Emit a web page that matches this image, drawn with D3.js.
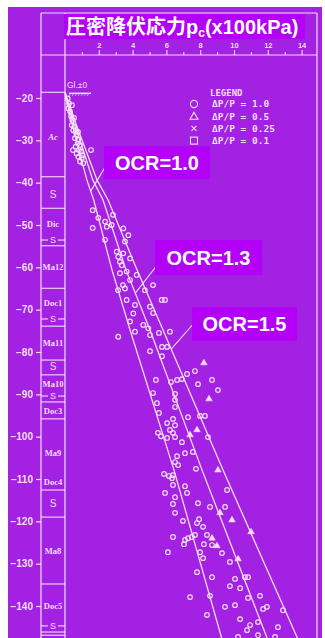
<!DOCTYPE html>
<html>
<head>
<meta charset="utf-8">
<script src="https://cdn.jsdelivr.net/npm/d3@7"></script>
<style>
  html, body { margin: 0; padding: 0; background: #ffffff; }
  svg { display: block; }
</style>
</head>
<body>
<svg id="chart" width="325" height="638"></svg>
<script>
// ---- data ----------------------------------------------------------------
const depthTicks = [-20, -30, -40, -50, -60, -70, -80, -90, -100, -110, -120, -130, -140];
const pMajorTicks = [2, 4, 6, 8, 10, 12, 14];
const pMinorTicks = [1, 3, 5, 7, 9, 11, 13];

// preconsolidation lines p = OCR x sigma'v0, sampled by depth (m)
const curveDepth = [-18.65, -25, -32, -39.4, -44.1, -60.6, -74.8, -107.9, -148];
const ocr10 = [0, 0.35, 0.80, 1.30, 1.70, 2.78, 3.85, 6.45, 9.30];
const ocr13 = [0, 0.45, 1.05, 1.65, 2.25, 3.61, 5.03, 8.11, 12.00];
const ocr15 = [0, 0.55, 1.20, 1.90, 2.55, 4.26, 5.80, 9.35, 13.80];
const ocrNames = ["OCR=1.0", "OCR=1.3", "OCR=1.5"];
const leaderDepth = [-42.0, -66.1, -79.3];

// measured pc (x100 kPa) against elevation (m), ΔP/P = 1.0
const circlePts = [
  [0.16,-20.1],[0.24,-21.3],[0.20,-22.4],[0.30,-23.2],[0.36,-24.3],[0.43,-25.2],[0.40,-26.4],[0.55,-26.8],
  [0.49,-27.6],[0.63,-28.0],[0.69,-28.7],[0.59,-29.5],[0.79,-29.8],[0.75,-30.7],[0.89,-31.1],[0.63,-31.5],
  [0.83,-32.3],[0.95,-32.7],[0.69,-33.1],[0.79,-33.9],[0.99,-34.2],[0.89,-35.0],[1.54,-32.3],[1.08,-35.4],
  [0.41,-21.7],[0.53,-24.7],[0.77,-28.0],[0.47,-32.3],[1.01,-33.5],
  [1.64,-46.5],[1.97,-48.3],[1.64,-50.7],[2.37,-49.2],[2.47,-50.4],[2.76,-50.0],[2.84,-47.6],[3.45,-50.8],
  [3.75,-52.4],[3.55,-53.9],[2.37,-53.5],[3.06,-56.3],[3.15,-57.5],[3.45,-56.7],[3.25,-58.7],[3.36,-59.5],
  [3.85,-57.9],[3.25,-61.4],[3.65,-61.0],[3.85,-63.0],[4.24,-61.8],[3.55,-65.0],[4.73,-65.4],[5.72,-67.7],
  [5.92,-67.7],[3.65,-67.7],[4.14,-68.9],[5.03,-69.3],[4.04,-70.9],[3.85,-72.8],[4.63,-73.6],[4.93,-74.4],
  [6.21,-75.2],[3.15,-76.4],[4.14,-75.2],[5.03,-76.0],[5.21,-64.2],[5.56,-75.5],[5.21,-70.8],[3.14,-65.4],
  [3.43,-64.2],
  [5.03,-79.8],[5.74,-81.0],[5.74,-78.8],[6.04,-78.8],[7.69,-84.5],[7.22,-85.2],[6.92,-86.4],[6.63,-86.6],
  [6.27,-87.1],[5.38,-86.6],[8.70,-86.6],[7.87,-87.6],[9.05,-89.0],[5.21,-89.7],[6.51,-89.9],[6.51,-91.3],
  [5.44,-92.1],[6.51,-93.0],[5.56,-94.4],[7.28,-95.4],[7.99,-95.1],[8.28,-95.1],[6.39,-95.8],[6.04,-96.8],
  [6.51,-97.3],[6.21,-98.4],[5.50,-99.1],[5.68,-99.9],[6.39,-99.1],[6.04,-100.3],[6.51,-100.1],[6.92,-101.3],
  [8.46,-100.1],[7.10,-103.9],[6.63,-104.6],[7.57,-103.6],[6.51,-106.0],[6.69,-106.7],[7.75,-107.6],[5.86,-108.8],
  [6.15,-109.3],[6.39,-109.1],
  [6.33,-109.8],[6.39,-111.4],[7.10,-111.7],[7.22,-113.3],[5.92,-113.3],[6.51,-114.3],[9.59,-112.6],[6.39,-115.9],
  [7.87,-115.7],[8.58,-116.6],[6.51,-118.0],[9.47,-116.6],[6.98,-119.9],[7.93,-119.5],[7.81,-120.4],[8.17,-121.3],
  [6.39,-123.7],[7.69,-123.2],[7.51,-123.7],[7.28,-124.0],[7.10,-124.4],[7.04,-125.4],[8.40,-123.2],[8.22,-125.4],
  [8.70,-125.6],[6.09,-127.3],[7.99,-127.3],[9.29,-127.5],[8.17,-128.7],[9.76,-129.6],[7.81,-132.0],[8.70,-133.2],
  [10.06,-133.6],[10.65,-133.2],[10.83,-133.2],[9.76,-135.3],[10.36,-135.8],[7.40,-137.9],[8.58,-137.6],[11.54,-137.6],
  [10.83,-138.1],[9.47,-140.2],[10.06,-139.8],[11.95,-140.2],[11.72,-140.7],[12.90,-141.0],[8.40,-142.1],[10.36,-143.1],
  [11.42,-143.8],[10.95,-144.5],[10.77,-145.7],[12.60,-145.0],[11.42,-146.9],[10.24,-147.3],[12.43,-147.3]
];
// ΔP/P = 0.5
const trianglePts = [
  [8.22,-82.6],[8.52,-91.1],[7.81,-98.4],[7.40,-99.6],[9.05,-107.9],
  [9.17,-118.0],[9.88,-119.7],[11.01,-122.5],[8.70,-124.0],[8.99,-125.8],[10.24,-128.9]
];

const legendTitle = "LEGEND";
const legendLabels = ["ΔP/P = 1.0", "ΔP/P = 0.5", "ΔP/P = 0.25", "ΔP/P = 0.1"];
const legendSymbols = ["circle", "triangle", "cross", "square"];

// boring log
const layerBounds = [-18.65, -38.6, -46.05, -54.9, -64.95, -73.9, -81.9, -85.4, -91.8, -95.8,
                     -112.6, -119.0, -134.8, -146.15, -146.9];
const seamDepths = [-53.55, -72.2, -90.4, -144.7];
const layerNames = ["Ac", "S", "Dic", "Ma12", "Doc1", "Ma11", "S", "Ma10", "Doc3", "Ma9", "Doc4", "S", "Ma8", "Doc5"];
const layerLabelDepth = [-29.2, -42.7, -49.8, -59.9, -68.4, -77.9, -83.5, -87.6, -93.9, -103.9, -110.7, -115.7, -127.0, -140.0];

const titleMain = "圧密降伏応力p";
const titleSub = "c";
const titleUnit = "(x100kPa)";
const glText = "Gl.±0";

// ---- drawing -------------------------------------------------------------
const W = 325, H = 638;
const BG = "#a321e2", BOX = "#b300f7", INK = "#f6def6";
const svg = d3.select("#chart");

const frame = { left: 41, col: 65, right: 317, top: 13, head: 55 };
const x = d3.scaleLinear().domain([0, 14]).range([frame.col, 301.6]);
const y = d3.scaleLinear().domain([-20, -140]).range([98, 606]);

svg.append("rect").attr("x", 8).attr("y", 7).attr("width", 314).attr("height", H - 7).attr("fill", BG);

const g = svg.append("g");
const line = (x1, y1, x2, y2, w = 1.2) =>
  g.append("line").attr("x1", x1).attr("y1", y1).attr("x2", x2).attr("y2", y2)
    .attr("stroke", INK).attr("stroke-width", w);

// frame
line(frame.left, frame.top, frame.right, frame.top);
line(frame.left, frame.top, frame.left, H);
line(frame.right, frame.top, frame.right, H);
line(frame.col, frame.top, frame.col, H);
line(frame.left, frame.head, frame.right, frame.head);

// p axis (top)
const xMinor = d3.axisTop(x).tickValues(pMinorTicks).tickSize(3).tickFormat("");
const xMajor = d3.axisTop(x).tickValues(pMajorTicks).tickSize(5).tickPadding(2);
[xMinor, xMajor].forEach(ax => {
  const a = g.append("g").attr("transform", `translate(0,${frame.head})`).call(ax);
  a.select(".domain").remove();
  a.selectAll("line").attr("stroke", INK).attr("stroke-width", 1.1);
  a.selectAll("text").attr("fill", INK).attr("font-family", "Liberation Sans, Arial, sans-serif")
    .attr("font-size", 7.5).attr("font-weight", "bold");
});

// depth axis (left)
const yAx = g.append("g").attr("transform", `translate(${frame.left},0)`)
  .call(d3.axisLeft(y).tickValues(depthTicks).tickSize(5).tickPadding(3));
yAx.select(".domain").remove();
yAx.selectAll("line").attr("stroke", INK).attr("stroke-width", 1.2);
yAx.selectAll("text").attr("fill", INK).attr("font-family", "Liberation Sans, Arial, sans-serif")
  .attr("font-size", 10).attr("font-weight", "bold");

// boring log column
layerBounds.forEach(d => line(frame.left, y(d), frame.col, y(d), 1.1));
const colMid = (frame.left + frame.col) / 2;
seamDepths.forEach(d => {
  line(frame.left, y(d), colMid - 5, y(d), 1.1);
  line(colMid + 5, y(d), frame.col, y(d), 1.1);
});
seamDepths.forEach(d => g.append("text").attr("x", colMid).attr("y", y(d)).attr("dy", "0.35em")
  .attr("text-anchor", "middle").attr("fill", INK)
  .attr("font-family", "Liberation Sans, Arial, sans-serif").attr("font-size", 9).text("S"));
layerNames.forEach((n, i) => g.append("text").attr("x", colMid).attr("y", y(layerLabelDepth[i]))
  .attr("dy", "0.35em").attr("text-anchor", "middle").attr("fill", INK)
  .attr("font-family", n === "S" ? "Liberation Sans, Arial, sans-serif" : "Liberation Serif, Times New Roman, serif")
  .attr("font-size", n === "S" ? 10 : 8.5).attr("font-weight", n === "S" ? "normal" : "bold")
  .attr("font-style", n === "Ac" ? "italic" : "normal").text(n));

// ground level marker
g.append("text").attr("x", frame.col + 2).attr("y", y(layerBounds[0]) - 4).attr("fill", INK)
  .attr("font-family", "Liberation Sans, Arial, sans-serif").attr("font-size", 8.5).text(glText);
const glY = y(layerBounds[0]) + 1;
line(frame.col + 4, glY, frame.col + 26, glY, 1.4);
d3.range(frame.col + 6, frame.col + 26, 3).forEach(hx => line(hx, glY, hx - 2, glY + 2.5, 0.8));

// OCR lines
const curves = [ocr10, ocr13, ocr15];
const path = d3.line().x(d => x(d[0])).y(d => y(d[1]));
curves.forEach(c => g.append("path")
  .attr("d", path(c.map((p, i) => [p, curveDepth[i]])))
  .attr("fill", "none").attr("stroke", INK).attr("stroke-width", 1.3));

// measured points
g.append("g").selectAll("circle").data(circlePts).join("circle")
  .attr("cx", d => x(d[0])).attr("cy", d => y(d[1])).attr("r", 2.3)
  .attr("fill", "none").attr("stroke", INK).attr("stroke-width", 1.2);
const tri = d3.symbol().type(d3.symbolTriangle).size(18);
g.append("g").selectAll("path").data(trianglePts).join("path")
  .attr("transform", d => `translate(${x(d[0])},${y(d[1])})`).attr("d", tri)
  .attr("fill", INK).attr("stroke", INK).attr("stroke-width", 0.6);

// legend
const lg = g.append("g").attr("font-family", "DejaVu Sans Mono, monospace").attr("fill", INK)
  .attr("font-weight", "bold");
lg.append("text").attr("x", 210).attr("y", 96).attr("font-size", 9).text(legendTitle);
legendLabels.forEach((t, i) => {
  const cy = 104 + i * 12.2, cx = 194;
  const s = legendSymbols[i];
  if (s === "circle") lg.append("circle").attr("cx", cx).attr("cy", cy).attr("r", 3.6)
    .attr("fill", "none").attr("stroke", INK).attr("stroke-width", 1.1);
  if (s === "triangle") lg.append("path").attr("d", `M${cx},${cy - 4}L${cx + 4},${cy + 3}L${cx - 4},${cy + 3}Z`)
    .attr("fill", "none").attr("stroke", INK).attr("stroke-width", 1.1);
  if (s === "cross") lg.append("path").attr("d", `M${cx - 2.5},${cy - 2.5}L${cx + 2.5},${cy + 2.5}M${cx + 2.5},${cy - 2.5}L${cx - 2.5},${cy + 2.5}`)
    .attr("stroke", INK).attr("stroke-width", 1.1);
  if (s === "square") lg.append("rect").attr("x", cx - 3.5).attr("y", cy - 3.5).attr("width", 7).attr("height", 7)
    .attr("fill", "none").attr("stroke", INK).attr("stroke-width", 1.1);
  lg.append("text").attr("x", 212).attr("y", cy + 3.4).attr("font-size", 9.5).text(t);
});

// OCR labels with leaders
const boxes = [
  { x: 104, y: 146, w: 106, h: 33, from: [107, 164] },
  { x: 155, y: 240, w: 107, h: 35, from: [158, 264] },
  { x: 192, y: 307, w: 105, h: 34, from: [195, 322] }
];
boxes.forEach((b, i) => {
  const c = curves[i];
  const pAt = d3.scaleLinear().domain(curveDepth).range(c);
  const tx = x(pAt(leaderDepth[i])), ty = y(leaderDepth[i]);
  line(b.from[0], b.from[1], tx, ty, 1.1);
  g.append("rect").attr("x", b.x).attr("y", b.y).attr("width", b.w).attr("height", b.h).attr("fill", BOX);
  g.append("text").attr("x", b.x + b.w / 2).attr("y", b.y + b.h / 2).attr("dy", "0.36em")
    .attr("text-anchor", "middle").attr("fill", "#ffffff")
    .attr("font-family", "Liberation Sans, Arial, sans-serif").attr("font-weight", "bold")
    .attr("font-size", 20).text(ocrNames[i]);
});

// title
g.append("rect").attr("x", 64).attr("y", 14).attr("width", 241).attr("height", 25).attr("fill", BOX);
const tt = g.append("text").attr("x", 66).attr("y", 33.5).attr("fill", "#ffffff")
  .attr("font-family", "Liberation Sans, Noto Sans CJK JP, sans-serif").attr("font-weight", "bold")
  .attr("font-size", 20);
tt.append("tspan").text(titleMain);
tt.append("tspan").attr("dy", 3).attr("font-size", 12).text(titleSub);
tt.append("tspan").attr("dy", -3).text(titleUnit);
</script>
</body>
</html>
